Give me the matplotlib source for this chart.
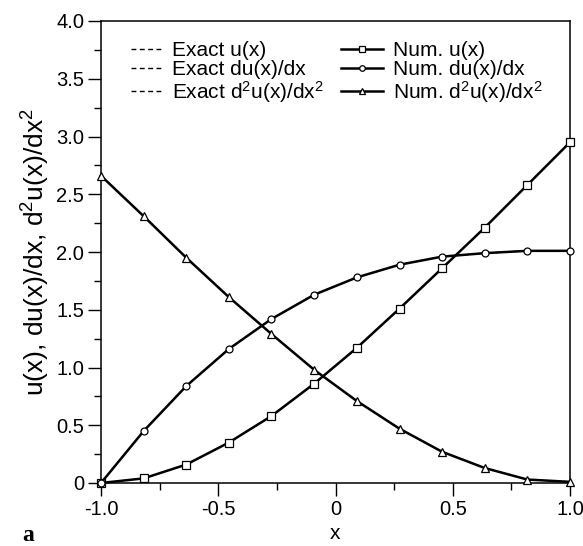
import matplotlib
matplotlib.use("Agg")
import matplotlib.pyplot as plt
from matplotlib.ticker import MultipleLocator, FuncFormatter
from matplotlib.lines import Line2D

plt.rcParams['font.family'] = ['Liberation Sans', 'DejaVu Sans']
plt.rcParams['mathtext.fontset'] = 'custom'
plt.rcParams['mathtext.rm'] = 'Liberation Sans'
plt.rcParams['mathtext.default'] = 'regular'

# Collocation points and solution values
x = [-1.0, -0.818, -0.636, -0.455, -0.273, -0.091,
     0.091, 0.273, 0.455, 0.636, 0.818, 1.0]
u = [0.0, 0.04, 0.16, 0.35, 0.58, 0.86,
     1.17, 1.51, 1.86, 2.21, 2.58, 2.95]
du = [0.0, 0.45, 0.84, 1.16, 1.42, 1.63,
      1.78, 1.89, 1.96, 1.99, 2.01, 2.01]
d2u = [2.66, 2.31, 1.95, 1.61, 1.29, 0.98,
       0.71, 0.47, 0.27, 0.13, 0.03, 0.01]

exact_labels = ['Exact u(x)', 'Exact du(x)/dx', 'Exact d$^2$u(x)/dx$^2$']
num_labels = ['Num. u(x)', 'Num. du(x)/dx', 'Num. d$^2$u(x)/dx$^2$']
markers = ['s', 'o', '^']
msizes = [6, 5, 6]

fig = plt.figure(figsize=(5.83, 5.46), dpi=100)
ax = fig.add_axes([101/583, 1-483/546, (570-101)/583, (483-21)/546])

dash = (0, (3.5, 2.5))
series = [u, du, d2u]
for ys in series:
    ax.plot(x, ys, color='black', lw=1.0, linestyle=dash, zorder=2, clip_on=False)
for ys, m, ms in zip(series, markers, msizes):
    ax.plot(x, ys, color='black', lw=1.8, marker=m, markersize=ms,
            markerfacecolor='white', markeredgecolor='black',
            markeredgewidth=0.9, zorder=3, clip_on=False)

ax.set_xlim(-1.0, 1.0)
ax.set_ylim(0, 4.0)
ax.xaxis.set_major_locator(MultipleLocator(0.5))
ax.xaxis.set_minor_locator(MultipleLocator(0.25))
ax.yaxis.set_major_locator(MultipleLocator(0.5))
ax.yaxis.set_minor_locator(MultipleLocator(0.25))

fmt = FuncFormatter(lambda v, p: '0' if abs(v) < 1e-9 else f'{v:.1f}')
ax.xaxis.set_major_formatter(fmt)
ax.yaxis.set_major_formatter(fmt)

ax.tick_params(which='both', direction='out', top=False, right=False,
               width=1.0, labelsize=14.5, colors='black')
ax.tick_params(which='major', length=9.5, pad=2.5)
ax.tick_params(which='minor', length=5)
for s in ax.spines.values():
    s.set_linewidth(1.1)

ax.set_xlabel('x', fontsize=15, labelpad=4)
ax.set_ylabel('u(x), du(x)/dx, d$^2$u(x)/dx$^2$', fontsize=19, labelpad=3)

# Two legend columns with different handle lengths
h1 = [Line2D([], [], color='black', lw=1.0, linestyle=dash) for _ in exact_labels]
leg1 = ax.legend(h1, exact_labels, loc='upper left', bbox_to_anchor=(0.047, 0.975),
                 frameon=False, fontsize=15, handlelength=1.5, handletextpad=0.45,
                 labelspacing=0.0, borderaxespad=0)
ax.add_artist(leg1)
h2 = [Line2D([], [], color='black', lw=1.8, marker=m, markersize=ms - 1,
             markerfacecolor='white', markeredgewidth=0.9)
      for m, ms in zip(markers, msizes)]
ax.legend(h2, num_labels, loc='upper left', bbox_to_anchor=(0.495, 0.975),
          frameon=False, fontsize=15, handlelength=2.0, handletextpad=0.45,
          labelspacing=0.0, borderaxespad=0)

fig.text(22/583, 1-541/546, 'a', fontsize=17, fontweight='bold',
         family='Liberation Serif', ha='left', va='baseline')

fig.savefig('out.png', dpi=100)
